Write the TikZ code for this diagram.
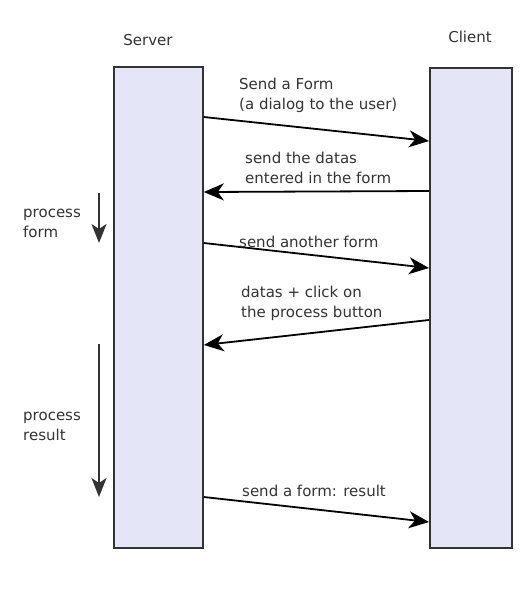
\documentclass[tikz,border=0pt]{standalone}
\usepackage{fontspec}
\setmainfont{DejaVu Sans}
\usetikzlibrary{arrows.meta}
\definecolor{txt}{HTML}{333333}
\definecolor{boxfill}{HTML}{E5E5F8}
\definecolor{boxline}{HTML}{333333}
\tikzset{
  lifeline/.style={draw=boxline, fill=boxfill, line width=1.8pt, inner sep=0pt, anchor=north west},
  msg/.style={draw=black, line width=1.8pt, -{Stealth[length=20pt,width=17pt,inset=6pt]}},
  proc/.style={draw=txt, line width=1.8pt, -{Stealth[length=19pt,width=15pt,inset=5pt]}},
  lbl/.style={text=txt, font=\fontsize{15}{19.5}\selectfont, inner sep=0pt, align=left, anchor=base west},
  title/.style={text=txt, font=\fontsize{15}{19.5}\selectfont, inner sep=0pt, anchor=base}
}
\begin{document}
\begin{tikzpicture}[x=1pt,y=-1pt]
\useasboundingbox (0,0) rectangle (522,598);
\node[lifeline, minimum width=89pt, minimum height=481pt] (srv) at (113,66) {};
\node[lifeline, minimum width=82pt, minimum height=480pt] (cli) at (429,67) {};
\node[title] (tsrv) at (148,45) {Server};
\node[title] (tcli) at (470,42) {Client};
% edge coordinates
\coordinate (s1) at (srv.east |- 0,117);
\coordinate (c1) at (cli.west |- 0,141);
\coordinate (c2) at (cli.west |- 0,191);
\coordinate (s2) at (srv.east |- 0,192);
\coordinate (s3) at (srv.east |- 0,243);
\coordinate (c3) at (cli.west |- 0,268);
\coordinate (c4) at (cli.west |- 0,320);
\coordinate (s4) at (srv.east |- 0,345);
\coordinate (s5) at (srv.east |- 0,497);
\coordinate (c5) at (cli.west |- 0,522);
\draw[msg] (s1) -- (c1);
\draw[msg] (c2) -- (s2);
\draw[msg] (s3) -- (c3);
\draw[msg] (c4) -- (s4);
\draw[msg] (s5) -- (c5);
% labels (base anchor = baseline of last line)
\node[lbl] (l1) at (239,109) {Send a Form\\(a dialog to the user)};
\node[lbl] (l2) at (245,183) {send the datas\\entered in the form};
\node[lbl] (l3) at (239,247) {send another form};
\node[lbl] (l4) at (241,317) {datas + click on\\the process button};
\node[lbl] (l5) at (242,496) {send a form: result};
% process arrows
\coordinate (p1a) at (99,193);
\coordinate (p1b) at (99,243);
\coordinate (p2a) at (99,344);
\coordinate (p2b) at (99,497);
\draw[proc] (p1a) -- (p1b);
\draw[proc] (p2a) -- (p2b);
\node[lbl] (lp1) at (23,237) {process\\form};
\node[lbl] (lp2) at (23,440) {process\\result};
\end{tikzpicture}
\end{document}
